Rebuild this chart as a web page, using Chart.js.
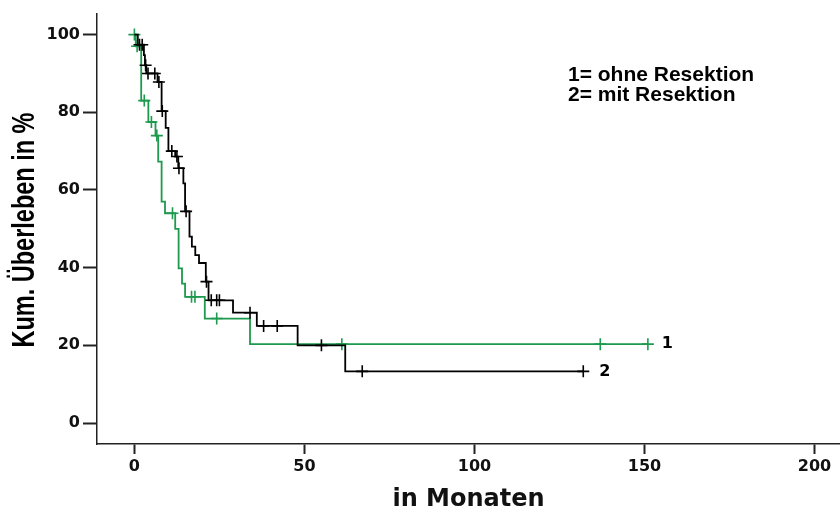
<!DOCTYPE html>
<html lang="de">
<head>
<meta charset="UTF-8">
<title>Kum. Überleben in %</title>
<script src="https://cdn.jsdelivr.net/npm/chart.js"></script>
<style>
  html, body { margin: 0; padding: 0; background: #fff; }
</style>
</head>
<body>
<canvas id="kmChart" width="840" height="509"></canvas>
<script>
// Gruppe 1 (grün): Stufen der Kaplan-Meier-Kurve
const zeit1 = [0, 0.4, 2, 4.1, 6.2, 7, 8, 9, 12, 13, 14, 14.9, 20.7, 34, 151];
const wert1 = [100, 97, 83, 77.5, 74, 67.3, 57, 54, 50, 39.8, 35.9, 32.5, 26.9, 20.3, 20.3];
// Gruppe 1: zensierte Fälle
const zens1Zeit = [0, 0.8, 2.9, 5, 6.6, 11.2, 16.8, 17.8, 24.2, 61, 137, 151];
const zens1Wert = [100, 97, 83, 77.5, 74, 54, 32.5, 32.5, 26.9, 20.3, 20.3, 20.3];

// Gruppe 2 (schwarz)
const zeit2 = [0, 1, 2.8, 3.1, 3.5, 6.8, 8, 9.2, 10, 12, 12.9, 14.4, 14.9, 16.2, 16.9, 17.9, 19, 21, 21.8, 29, 36, 48, 62, 132];
const wert2 = [100, 97.4, 94.7, 92.1, 90, 87.8, 80.3, 76, 70, 68.6, 65.6, 61.7, 54.5, 48, 45.4, 43.2, 41.2, 36.4, 31.6, 28.4, 25, 20, 13.3, 13.3];
const zens2Zeit = [1.5, 2.3, 3.3, 4, 6, 7.2, 8.2, 11, 12.5, 13.1, 15.2, 21.2, 22.6, 24.2, 25, 34, 38, 42, 55, 67, 132];
const zens2Wert = [97.4, 97.4, 92.1, 90, 90, 87.8, 80.3, 70, 68.6, 65.6, 54.5, 36.4, 31.6, 31.6, 31.6, 28.4, 25, 25, 20, 13.3, 13.3];

const xTicks = [0, 50, 100, 150, 200];
const yTicks = [0, 20, 40, 60, 80, 100];
const legendeZeilen = ['1= ohne Resektion', '2= mit Resektion'];
const yTitel = 'Kum. Überleben in %';

const gruen = '#1e9a4e';
const schwarz = '#000000';
const achse = '#222222';

const punkte = (xs, ys) => xs.map((x, i) => ({ x: x, y: ys[i] }));

// Beschriftungen: y-Titel (gestaucht wie im Original), Legende, Gruppennummern
const beschriftung = {
  id: 'beschriftung',
  afterDraw(chart) {
    const { ctx, chartArea, scales: { x, y } } = chart;
    ctx.save();
    ctx.fillStyle = '#000';

    ctx.save();
    ctx.translate(26, (chartArea.top + chartArea.bottom) / 2 + 1);
    ctx.rotate(-Math.PI / 2);
    ctx.scale(1, 1.3);
    ctx.textAlign = 'center';
    ctx.textBaseline = 'middle';
    ctx.font = 'bold 23.5px "Liberation Sans", Arial, sans-serif';
    ctx.fillText(yTitel, 0, 0);
    ctx.restore();

    ctx.textAlign = 'left';
    ctx.textBaseline = 'middle';
    ctx.font = 'bold 21px "Liberation Sans", Arial, sans-serif';
    legendeZeilen.forEach((t, i) => ctx.fillText(t, 568, 75 + i * 20));

    ctx.font = 'bold 16px "DejaVu Sans", sans-serif';
    ctx.fillText('1', x.getPixelForValue(zeit1[zeit1.length - 1]) + 14, y.getPixelForValue(wert1[wert1.length - 1]));
    ctx.fillText('2', x.getPixelForValue(zeit2[zeit2.length - 1]) + 16, y.getPixelForValue(wert2[wert2.length - 1]));
    ctx.restore();
  }
};

const tickFont = { family: '"DejaVu Sans", sans-serif', weight: 'bold', size: 16 };

new Chart(document.getElementById('kmChart'), {
  type: 'scatter',
  data: {
    datasets: [
      {
        label: '2 zensiert',
        data: punkte(zens2Zeit, zens2Wert),
        showLine: false,
        pointStyle: 'cross',
        pointRadius: 6,
        borderColor: schwarz,
        backgroundColor: schwarz,
        borderWidth: 1.6
      },
      {
        label: '2',
        data: punkte(zeit2, wert2),
        showLine: true,
        stepped: 'before',
        borderColor: schwarz,
        borderWidth: 1.8,
        pointRadius: 0,
        fill: false
      },
      {
        label: '1 zensiert',
        data: punkte(zens1Zeit, zens1Wert),
        showLine: false,
        pointStyle: 'cross',
        pointRadius: 6,
        borderColor: gruen,
        backgroundColor: gruen,
        borderWidth: 1.6
      },
      {
        label: '1',
        data: punkte(zeit1, wert1),
        showLine: true,
        stepped: 'before',
        borderColor: gruen,
        borderWidth: 1.8,
        pointRadius: 0,
        fill: false
      }
    ]
  },
  options: {
    responsive: false,
    animation: false,
    devicePixelRatio: 1,
    layout: { autoPadding: false, padding: { top: 14, left: 0, right: 0, bottom: 0 } },
    plugins: {
      legend: { display: false },
      tooltip: { enabled: false }
    },
    elements: { line: { tension: 0 } },
    scales: {
      x: {
        type: 'linear',
        min: -11,
        max: 207.5,
        afterBuildTicks: (s) => { s.ticks = xTicks.map((v) => ({ value: v })); },
        afterFit: (s) => { s.height = 65; },
        border: { display: true, color: achse, width: 1.5 },
        grid: { drawOnChartArea: false, drawTicks: true, tickLength: 10, tickWidth: 2, tickColor: achse },
        ticks: { autoSkip: false, padding: 3, color: '#111', font: tickFont, maxRotation: 0 },
        title: {
          display: true,
          text: 'in Monaten',
          color: '#111',
          padding: 0,
          font: { family: '"DejaVu Sans", sans-serif', weight: 'bold', size: 24, lineHeight: 0.8 }
        }
      },
      y: {
        min: -5.4,
        max: 105.3,
        afterBuildTicks: (s) => { s.ticks = yTicks.map((v) => ({ value: v })); },
        afterFit: (s) => { s.width = 97; },
        border: { display: true, color: achse, width: 1.5 },
        grid: { drawOnChartArea: false, drawTicks: true, tickLength: 14, tickWidth: 2, tickColor: achse },
        ticks: { autoSkip: false, padding: 3, color: '#111', font: tickFont }
      }
    }
  },
  plugins: [beschriftung]
});
</script>
</body>
</html>
